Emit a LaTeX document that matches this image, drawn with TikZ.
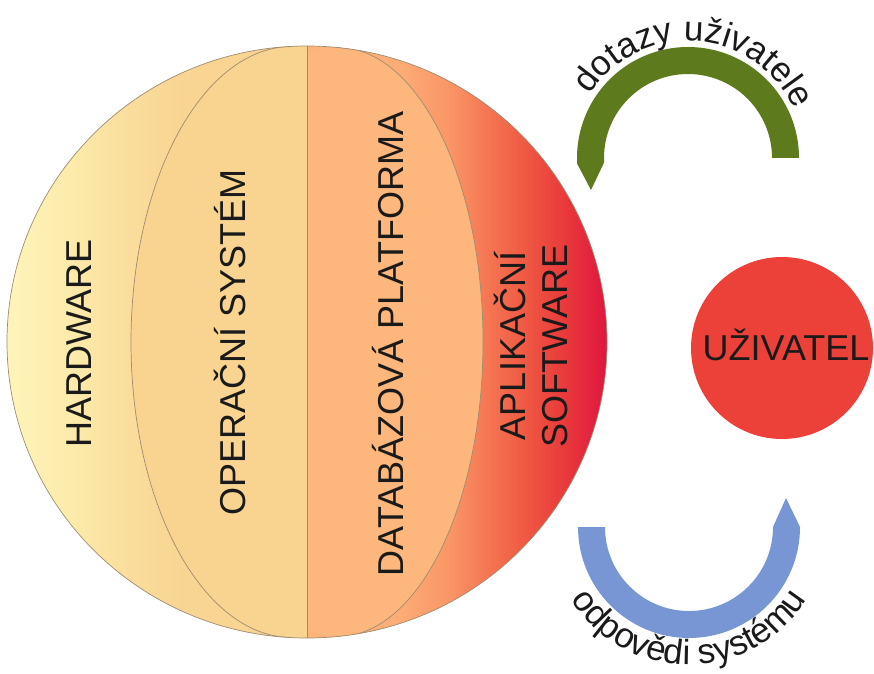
\documentclass[tikz,border=0pt]{standalone}
\usepackage{fontspec}
\setmainfont{Liberation Sans}
\usetikzlibrary{decorations.text}

\definecolor{hwA}{HTML}{FEF4BA}
\definecolor{hwB}{HTML}{FCEBAB}
\definecolor{hwC}{HTML}{FADD9C}
\definecolor{hwD}{HTML}{F9D593}
\definecolor{hwE}{HTML}{F9D290}
\definecolor{osfill}{HTML}{F9D491}
\definecolor{dbfill}{HTML}{FDB67B}
\definecolor{apA}{HTML}{FDB47A}
\definecolor{apB}{HTML}{FDAC75}
\definecolor{apC}{HTML}{FA9566}
\definecolor{apD}{HTML}{F47452}
\definecolor{apE}{HTML}{EF5441}
\definecolor{apF}{HTML}{E8353B}
\definecolor{apG}{HTML}{DF1640}
\definecolor{rimline}{HTML}{9E8C70}
\definecolor{userred}{HTML}{EC4139}
\definecolor{querygreen}{HTML}{5D7B1D}
\definecolor{replyblue}{HTML}{7896D4}
\definecolor{ink}{HTML}{1A1A1A}

% horizontal shadings; 25bp and 75bp are the left and right edges of the shaded box
\pgfdeclarehorizontalshading{hwshade}{100bp}{%
  color(0bp)=(hwA); color(25bp)=(hwA); color(35.5bp)=(hwB);
  color(45.5bp)=(hwC); color(53.8bp)=(hwD); color(75bp)=(hwE); color(100bp)=(hwE)}
\pgfdeclarehorizontalshading{appshade}{100bp}{%
  color(0bp)=(apA); color(30.5bp)=(apA); color(40.5bp)=(apB);
  color(48.8bp)=(apC); color(55.5bp)=(apD); color(62.2bp)=(apE);
  color(68.8bp)=(apF); color(75bp)=(apG); color(100bp)=(apG)}

\newcommand{\labelfont}{\fontsize{36}{40}\selectfont}
\newcommand{\arcfont}{\fontsize{35}{40}\selectfont}

\tikzset{
  layertext/.style={font=\labelfont, text=ink, rotate=90, anchor=base, inner sep=0pt},
  rim/.style={draw=rimline, line width=0.7pt},
  arctext/.style={decorate, decoration={text along path, text align=center,
      text color=ink, text={|\arcfont|#1}}}
}

\begin{document}
\begin{tikzpicture}[x=1pt,y=1pt]
\useasboundingbox (0,0) rectangle (874,673);

\coordinate (c) at (307,331);
\coordinate (G) at (688,515);
\coordinate (B) at (689,146);

% layered sphere
\begin{scope}
  \clip (c) ellipse [x radius=300, y radius=296];
  \shade[shading=hwshade] (7,35) rectangle (307,627);
  \fill[osfill] (292,331) ellipse [x radius=161, y radius=295.5];
  \shade[shading=appshade] (307,35) rectangle (607,627);
  \begin{scope}
    \clip (307,0) rectangle (620,673);
    \fill[dbfill] (338,331) ellipse [x radius=145, y radius=294.5];
  \end{scope}
  \draw[rim] (292,626.5) arc[start angle=90, end angle=270, x radius=161, y radius=295.5];
  \draw[rim] (338,625.5) arc[start angle=90, end angle=-90, x radius=145, y radius=294.5];
  \draw[rim] (307,20) -- (307,660);
\end{scope}
\draw[rim] (c) ellipse [x radius=300, y radius=296];

% layer labels
\node[layertext] (hw) at (91,329.5) {HARDWARE};
\node[layertext] (os) at (245,330.5) {OPERAČNÍ SYSTÉM};
\node[layertext] (db) at (403,329) {DATABÁZOVÁ PLATFORMA};
\node[layertext] (app1) at (525,327) {APLIKAČNÍ};
\node[layertext] (app2) at (567,327) {SOFTWARE};

% user
\node[circle, fill=userred, minimum size=182pt, inner sep=0pt] (user) at (782,325) {};
\node[font=\labelfont, text=ink, anchor=base, inner sep=0pt] (usertext) at (786,313) {UŽIVATEL};

% query band (right to left, pointed end at the left)
\fill[querygreen] ([shift={(0:111)}]G) arc[start angle=0, end angle=183, radius=111]
  -- ([shift={(-97,-32)}]G) -- ([shift={(183:84)}]G)
  arc[start angle=183, end angle=0, radius=84] -- cycle;
\path[arctext={dotazy uživatele}] ([shift={(150:117)}]G)
  arc[start angle=150, end angle=22, radius=117];

% reply band (left to right, pointed end at the right)
\fill[replyblue] ([shift={(180:111)}]B) arc[start angle=180, end angle=360, radius=111]
  -- ([shift={(97,29)}]B) -- ([shift={(0:84)}]B)
  arc[start angle=360, end angle=180, radius=84] -- cycle;
\path[arctext={odpovědi systému}] ([shift={(212:138)}]B)
  arc[start angle=212, end angle=328, radius=138];
\end{tikzpicture}
\end{document}
